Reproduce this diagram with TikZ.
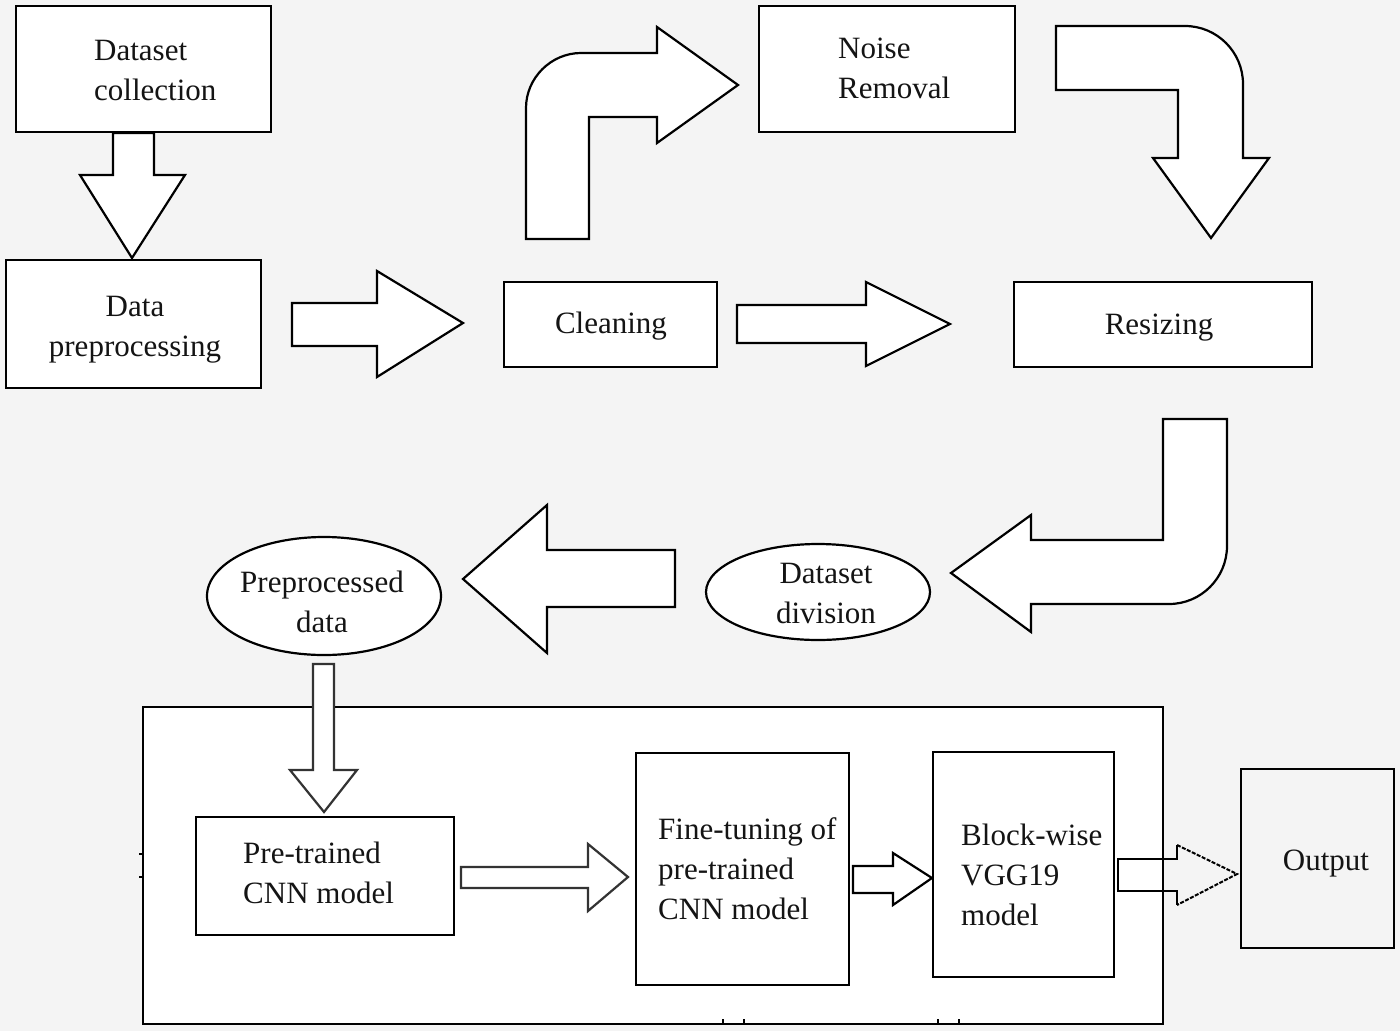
\documentclass[tikz,border=0pt]{standalone}
\usepackage{fontspec}
\setmainfont{Liberation Serif}
\usetikzlibrary{shapes.geometric}
\definecolor{bgc}{HTML}{F4F4F4}
\begin{document}
\begin{tikzpicture}[x=1pt,y=-1pt,
  box/.style={draw=black, line width=2.4pt, fill=white, rectangle, inner sep=0pt},
  oval/.style={draw=black, line width=2.2pt, fill=white, ellipse, inner sep=0pt},
  lbl/.style={font=\fontsize{31}{40}\selectfont, inner sep=0pt, align=left, text=black!92},
  barrow/.style={draw=black, line width=2.2pt, fill=white, line join=miter, miter limit=20},
  tick/.style={draw=black, line width=1.4pt}]
\useasboundingbox (0,0) rectangle (1400,1031);
\fill[bgc] (0,0) rectangle (1400,1031);

% outer frame of the model stage
\node[box, minimum width=1020pt, minimum height=317pt] (big) at (653,865.5) {};
\draw[tick] (723,1024) -- (723,1019) (744,1024) -- (744,1019) (938,1024) -- (938,1019) (959,1024) -- (959,1019);
\draw[tick] (143,854) -- (139,854) (143,877) -- (139,877);

% boxes
\node[box, minimum width=255pt, minimum height=126pt] (dc) at (143.5,69) {};
\node[box, minimum width=255pt, minimum height=128pt] (dp) at (133.5,324) {};
\node[box, minimum width=213pt, minimum height=85pt] (cl) at (610.5,324.5) {};
\node[box, minimum width=256pt, minimum height=126pt] (nr) at (887,69) {};
\node[box, minimum width=298pt, minimum height=85pt] (rs) at (1163,324.5) {};
\node[oval, minimum width=224pt, minimum height=96pt] (dd) at (818,592) {};
\node[oval, minimum width=234pt, minimum height=118pt] (pd) at (324,596) {};
\node[box, minimum width=258pt, minimum height=118pt] (pt) at (325,876) {};
\node[box, minimum width=213pt, minimum height=232pt] (ft) at (742.5,869) {};
\node[box, minimum width=181pt, minimum height=225pt] (bw) at (1023.5,864.5) {};
\node[box, fill=bgc, minimum width=153pt, minimum height=179pt] (out) at (1317.5,858.5) {};

% texts
\node[lbl, anchor=west] (tdc) at (94,70) {Dataset\\collection};
\node[lbl, align=center] (tdp) at (135,330) {Data\\preprocessing};
\node[lbl] (tcl) at (611,326) {Cleaning};
\node[lbl, anchor=west] (tnr) at (838,68) {Noise\\Removal};
\node[lbl] (trs) at (1159,328) {Resizing};
\node[lbl, align=center] (tdd) at (826,593) {Dataset\\division};
\node[lbl, align=center] (tpd) at (322,602) {Preprocessed\\data};
\node[lbl, anchor=west] (tpt) at (243,873) {Pre-trained\\CNN model};
\node[lbl, anchor=west] (tft) at (658,869) {Fine-tuning of\\pre-trained\\CNN model};
\node[lbl, anchor=west] (tbw) at (961,875) {Block-wise\\VGG19\\model};
\node[lbl] (tout) at (1326,864) {Output};

% block arrows
% dataset collection -> data preprocessing
\draw[barrow] (113,133) -- (154,133) -- (154,175) -- (185,175) -- (132,258) -- (80,175) -- (113,175) -- cycle;
% data preprocessing -> cleaning
\draw[barrow] (292,303) -- (377,303) -- (377,271) -- (463,323) -- (377,377) -- (377,346) -- (292,346) -- cycle;
% cleaning -> noise removal (bent)
\draw[barrow] (526,239) -- (526,108) .. controls (526,78) and (551,53) .. (581,53) -- (657,53) -- (657,27) -- (738,85) -- (657,143) -- (657,117) -- (589,117) -- (589,239) -- cycle;
% cleaning -> resizing
\draw[barrow] (737,305) -- (866,305) -- (866,282) -- (950,324) -- (866,366) -- (866,343) -- (737,343) -- cycle;
% noise removal -> resizing (bent)
\draw[barrow] (1056,26) -- (1185,26) .. controls (1217,26) and (1243,52) .. (1243,84) -- (1243,158) -- (1269,158) -- (1211,238) -- (1153,158) -- (1178,158) -- (1178,90) -- (1056,90) -- cycle;
% resizing -> dataset division (bent)
\draw[barrow] (1163,419) -- (1227,419) -- (1227,546) .. controls (1227,578) and (1201,604) .. (1169,604) -- (1031,604) -- (1031,632) -- (951,573) -- (1031,515) -- (1031,540) -- (1163,540) -- cycle;
% dataset division -> preprocessed data
\draw[barrow] (675,550) -- (547,550) -- (547,505) -- (463,579) -- (547,653) -- (547,607) -- (675,607) -- cycle;
% preprocessed data -> pre-trained
\draw[barrow, draw=black!80] (313,664) -- (334,664) -- (334,770) -- (357,770) -- (324,812) -- (290,770) -- (313,770) -- cycle;
% pre-trained -> fine-tuning
\draw[barrow, draw=black!80] (461,867) -- (588,867) -- (588,844) -- (628,877) -- (588,911) -- (588,888) -- (461,888) -- cycle;
% fine-tuning -> block-wise
\draw[barrow] (853,866) -- (893,866) -- (893,853) -- (932,878) -- (893,905) -- (893,893) -- (853,893) -- cycle;
% block-wise -> output (outline only)
\draw[line width=2.2pt] (1177,845) -- (1177,859) -- (1118,859) -- (1118,891) -- (1177,891) -- (1177,905);
\draw[line width=2pt, dash pattern=on 4pt off 1.5pt] (1177,845) -- (1237,874) -- (1177,905);
\end{tikzpicture}
\end{document}
